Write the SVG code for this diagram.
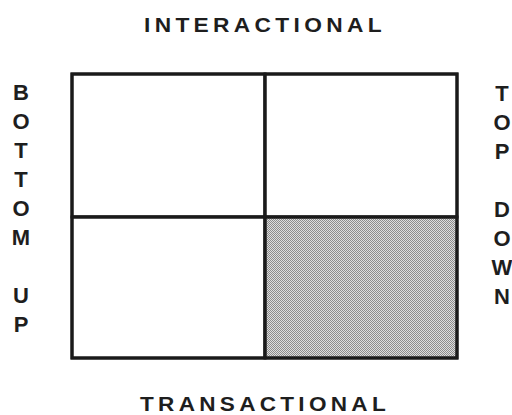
<svg xmlns="http://www.w3.org/2000/svg" width="512" height="415" viewBox="0 0 512 415">
  <style>
    .lbl { font-family: "Liberation Sans", Arial, sans-serif; font-weight: bold; fill: #1e1e1e; }
    .axis { font-size: 21px; letter-spacing: 4px; text-anchor: middle; }
    .vert { font-size: 22px; text-anchor: middle; }
    .cell { fill: #ffffff; stroke: #1a1a1a; stroke-width: 3; }
    .grid { stroke: #1a1a1a; stroke-width: 3; fill: none; }
  </style>
  <defs>
    <pattern id="stipple" width="2" height="2" patternUnits="userSpaceOnUse">
      <rect width="2" height="2" fill="#dedede"/>
      <rect x="0" y="0" width="1" height="1" fill="#8c8c8c"/>
      <rect x="1" y="1" width="1" height="1" fill="#8c8c8c"/>
    </pattern>
  </defs>

  <g id="quadrant-top-left"><rect class="cell" x="72" y="74" width="193" height="143"/></g>
  <g id="quadrant-top-right"><rect class="cell" x="265" y="74" width="192" height="143"/></g>
  <g id="quadrant-bottom-left"><rect class="cell" x="72" y="217" width="193" height="141"/></g>
  <g id="quadrant-bottom-right"><rect class="cell" x="265" y="217" width="192" height="141" style="fill:url(#stipple)"/></g>

  <g id="connectors">
    <rect class="grid" x="72" y="74" width="385" height="284"/>
    <line class="grid" x1="265" y1="74" x2="265" y2="358"/>
    <line class="grid" x1="72" y1="217" x2="457" y2="217"/>
  </g>

  <g id="label-top"><text class="lbl axis" x="265" y="32" textLength="242" lengthAdjust="spacingAndGlyphs">INTERACTIONAL</text></g>
  <g id="label-bottom"><text class="lbl axis" x="265" y="411" textLength="250" lengthAdjust="spacingAndGlyphs">TRANSACTIONAL</text></g>

  <g id="label-left">
    <text class="lbl vert" x="21" y="100">B</text>
    <text class="lbl vert" x="21" y="129">O</text>
    <text class="lbl vert" x="21" y="158">T</text>
    <text class="lbl vert" x="21" y="187">T</text>
    <text class="lbl vert" x="21" y="216">O</text>
    <text class="lbl vert" x="21" y="245">M</text>
    <text class="lbl vert" x="21" y="303">U</text>
    <text class="lbl vert" x="21" y="332">P</text>
  </g>
  <g id="label-right">
    <text class="lbl vert" x="502" y="101">T</text>
    <text class="lbl vert" x="502" y="130">O</text>
    <text class="lbl vert" x="502" y="159">P</text>
    <text class="lbl vert" x="502" y="217">D</text>
    <text class="lbl vert" x="502" y="246">O</text>
    <text class="lbl vert" x="502" y="275">W</text>
    <text class="lbl vert" x="502" y="304">N</text>
  </g>
</svg>
